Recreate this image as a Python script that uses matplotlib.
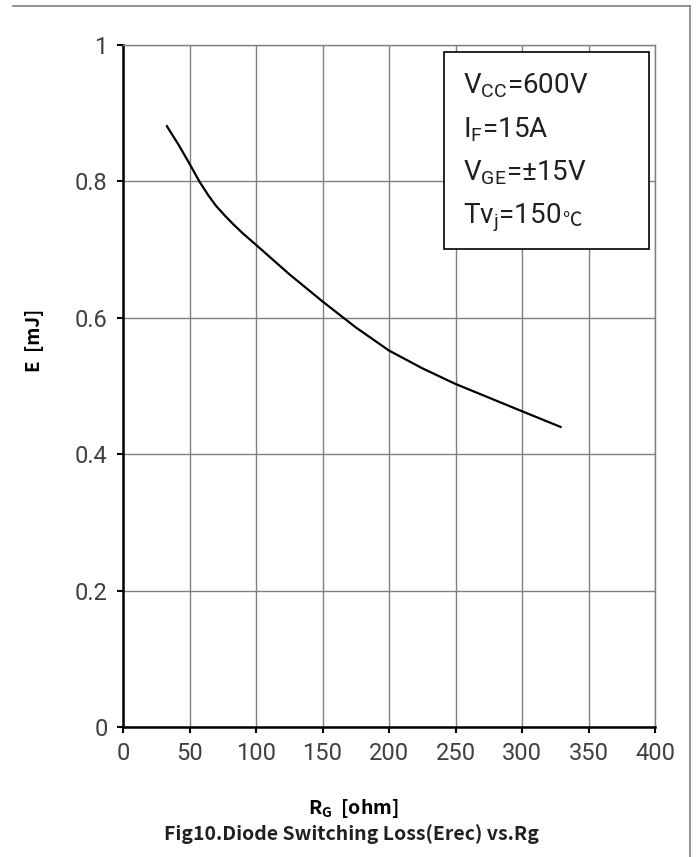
import numpy as np
import matplotlib.pyplot as plt
from matplotlib.lines import Line2D

# Erec vs Rg curve
rg = [33, 42, 50, 57.4, 64, 70, 77, 83, 90, 100, 125, 150, 175, 200, 225, 250, 275, 300, 329]
erec = [0.881, 0.853, 0.826, 0.800, 0.780, 0.764, 0.749, 0.737, 0.724, 0.707, 0.664, 0.624,
        0.586, 0.552, 0.526, 0.503, 0.483, 0.463, 0.440]

xticks = [0, 50, 100, 150, 200, 250, 300, 350, 400]
yticks = [0, 0.2, 0.4, 0.6, 0.8, 1]
ytick_labels = ["0", "0.2", "0.4", "0.6", "0.8", "1"]

# test conditions shown in the box
cond_lines = ["V$_\\mathregular{CC}$=600V",
              "I$_\\mathregular{F}$=15A",
              "V$_\\mathregular{GE}$=±15V",
              "Tv$_\\mathregular{j}$=150"]

plt.rcParams['font.family'] = ['Noto Sans CJK SC', 'DejaVu Sans']

fig = plt.figure(figsize=(6.99, 8.57), dpi=100)
ax = fig.add_axes([123 / 699, 1 - 727 / 857, (655 - 123) / 699, (727 - 45) / 857])

ax.plot(rg, erec, color='black', lw=1.6)

ax.set_xlim(0, 400)
ax.set_ylim(0, 1)
ax.set_xticks(xticks)
ax.set_yticks(yticks)
ax.set_yticklabels(ytick_labels)
ax.grid(True, color='#808080', lw=1.0)
ax.set_axisbelow(True)

for s in ['left', 'bottom']:
    ax.spines[s].set_color('black')
    ax.spines[s].set_linewidth(1.8)
for s in ['top', 'right']:
    ax.spines[s].set_color('#808080')
    ax.spines[s].set_linewidth(1.0)

ax.tick_params(axis='both', direction='out', length=4, width=1.5, color='black',
               labelsize=17, labelcolor='#404040')
ax.tick_params(axis='x', pad=7)
ax.tick_params(axis='y', pad=7)
for lab in ax.get_xticklabels() + ax.get_yticklabels():
    lab.set_family(['Roboto', 'DejaVu Sans'])

fig.text(35 / 699, 1 - 340 / 857, "E  [mJ]", rotation=90, ha='center', va='center',
         fontsize=13.5, fontweight='bold')
fig.text(353 / 699, 1 - 808 / 857, "R$_\\mathregular{G}$  [ohm]", ha='center', va='center',
         fontsize=14, fontweight='bold')
fig.text(352 / 699, 1 - 834 / 857, "Fig10.Diode Switching Loss(Erec) vs.Rg",
         ha='center', va='center', fontsize=14, fontweight='bold', color='#202020')

# condition box
baselines = [93, 137, 180, 223]
last = None
for txt, yb in zip(cond_lines, baselines):
    last = ax.text((463 - 123) / (655 - 123), 1 - (yb - 45) / 682, txt,
                   transform=ax.transAxes, ha='left', va='baseline', fontsize=20,
                   family=['Roboto', 'DejaVu Sans'], color='#202020', zorder=5)
ax.annotate("℃", xy=(1, 0), xycoords=last, xytext=(1, 2), textcoords='offset points',
            ha='left', va='bottom', fontsize=14, family=['Noto Sans CJK SC'],
            color='#202020', zorder=5)
ax.add_patch(plt.Rectangle(((444 - 123) / (655 - 123), 1 - (249 - 45) / 682),
                           (649 - 444) / (655 - 123), (249 - 52) / 682,
                           transform=ax.transAxes, facecolor='white', edgecolor='black',
                           lw=1.2, zorder=4))

# page border
fig.add_artist(Line2D([13 / 699, 690 / 699], [1 - 6 / 857, 1 - 6 / 857], color='#808080', lw=1.2))
fig.add_artist(Line2D([690 / 699, 690 / 699], [1 - 6 / 857, 0], color='#808080', lw=1.2))

fig.savefig("out.png", dpi=100)
